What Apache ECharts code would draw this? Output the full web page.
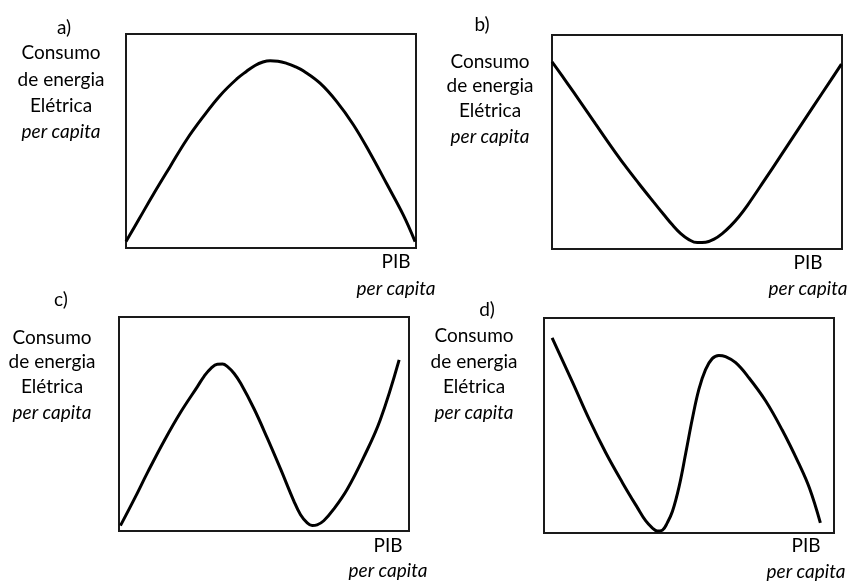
<!DOCTYPE html>
<html>
<head>
<meta charset="utf-8">
<script src="https://cdn.jsdelivr.net/npm/echarts@6/dist/echarts.min.js"></script>
<style>
  html, body { margin: 0; padding: 0; background: #fff; }
  #main { width: 855px; height: 581px; }
</style>
</head>
<body>
<div id="main"></div>
<script>
// curvas (x = PIB per capita, y = consumo), escala 0-100
var curveA = [[0,3],[4.7,14],[9.4,25],[15.2,38],[20.9,50.6],[26.7,61.5],[32.4,71.2],[38.2,79],[41.5,82.5],[44.5,85.3],
  [47.2,86.9],[49.7,87.5],[52.4,87.3],[55.4,86.3],[58.3,84.8],[61.1,82.8],[66.9,77],[72.6,68.5],[78.4,57.6],
  [84.1,44.5],[89.9,30],[95.6,15.5],[99.7,3]];
var curveB = [[0,87.5],[5,78],[10,68.3],[15,58.5],[20,48.7],[25,39.3],[30,30.5],[35,22],[38.6,16],[41.5,11.3],
  [44.4,7.2],[47.2,4.4],[50.1,3],[53,3.2],[55.9,4.6],[58.7,7.2],[61.6,10.8],[64.5,15.2],[67.4,20.4],[73.1,31.8],
  [78.9,43.6],[84.6,55.3],[90.3,67],[96.1,78.8],[99.8,86.4]];
var curveC = [[0.5,2.5],[5.3,15],[9.9,27.5],[15.6,42.2],[21.3,55.6],[27.1,67.6],[29.4,72.4],[31.7,76],[33.9,77.9],
  [35.7,78],[37.4,76.8],[39.7,73.6],[42,68.9],[46.6,57],[51.1,43.5],[55.7,29],[60.3,14],[62.6,7.6],[64.9,3.8],
  [66.6,2.6],[68.3,2.9],[70.6,4.8],[74.1,10.3],[78.7,19.5],[84.4,34.5],[90.1,52],[96.6,80]];
var curveD = [[2.8,90.8],[9.9,69.9],[15.6,52.8],[21.3,37.3],[27.1,23.3],[32.2,11.8],[35.1,5.6],[37.4,2.3],[39.1,0.9],
  [40.8,1.3],[42.5,4.7],[44.3,10.1],[46.6,21.7],[48.9,37.3],[51.1,52.8],[53.4,66.8],[55.7,76],[58,81.1],[60.3,82.6],
  [62.6,82],[66.1,79.2],[70.6,72.3],[76.4,61.5],[82.1,48],[87.8,32.5],[91.5,21],[95.3,4.7]];

var panelLetters = ['a)', 'b)', 'c)', 'd)'];
var yLabelLines = ['Consumo', 'de energia', 'Elétrica', 'per capita'];
var xLabelLines = ['PIB', 'per capita'];

var chart = echarts.init(document.getElementById('main'));

var grids = [
  {left: 126, top: 34, width: 290, height: 214},
  {left: 552, top: 35, width: 290, height: 214},
  {left: 119, top: 317, width: 290, height: 214},
  {left: 544, top: 318, width: 290, height: 215}
];
var curves = [curveA, curveB, curveC, curveD];

// posicoes dos textos de cada painel
var letterPos = [[64, 28], [482, 25], [61, 300], [487, 310]];
var yLabelPos = [[61, [53, 80, 106, 132]], [490, [62, 86, 111, 137]], [52, [338, 362, 387, 413]], [474, [336, 362, 387, 413]]];
var xLabelPos = [[396, [262, 289]], [808, [263, 289]], [388, [546, 571]], [806, [546, 572]]];

var font = 'Lato, "Open Sans", sans-serif';
var graphic = [];
function addText(txt, x, y, italic){
  graphic.push({
    type: 'text', x: x, y: y,
    style: {
      text: txt, fill: '#000', font: (italic ? 'italic ' : '') + '19px ' + font,
      textAlign: 'center', textVerticalAlign: 'middle'
    }
  });
}
for (var i = 0; i < 4; i++) {
  addText(panelLetters[i], letterPos[i][0], letterPos[i][1], false);
  for (var j = 0; j < yLabelLines.length; j++) {
    addText(yLabelLines[j], yLabelPos[i][0], yLabelPos[i][1][j], j == 3);
  }
  for (var k = 0; k < xLabelLines.length; k++) {
    addText(xLabelLines[k], xLabelPos[i][0], xLabelPos[i][1][k], k == 1);
  }
}

var option = {
  backgroundColor: '#fff',
  animation: false,
  grid: grids.map(function(g){
    return {left: g.left, top: g.top, width: g.width, height: g.height,
      show: true, borderColor: '#1a1a1a', borderWidth: 2, backgroundColor: '#fff'};
  }),
  xAxis: grids.map(function(g, idx){
    return {type: 'value', gridIndex: idx, min: 0, max: 100, show: false};
  }),
  yAxis: grids.map(function(g, idx){
    return {type: 'value', gridIndex: idx, min: 0, max: 100, show: false};
  }),
  series: curves.map(function(c, idx){
    return {
      type: 'line', xAxisIndex: idx, yAxisIndex: idx, data: c,
      smooth: 0.4, showSymbol: false, symbol: 'none', clip: false,
      lineStyle: {color: '#000', width: 3}
    };
  }),
  graphic: graphic
};
chart.setOption(option);
</script>
</body>
</html>
